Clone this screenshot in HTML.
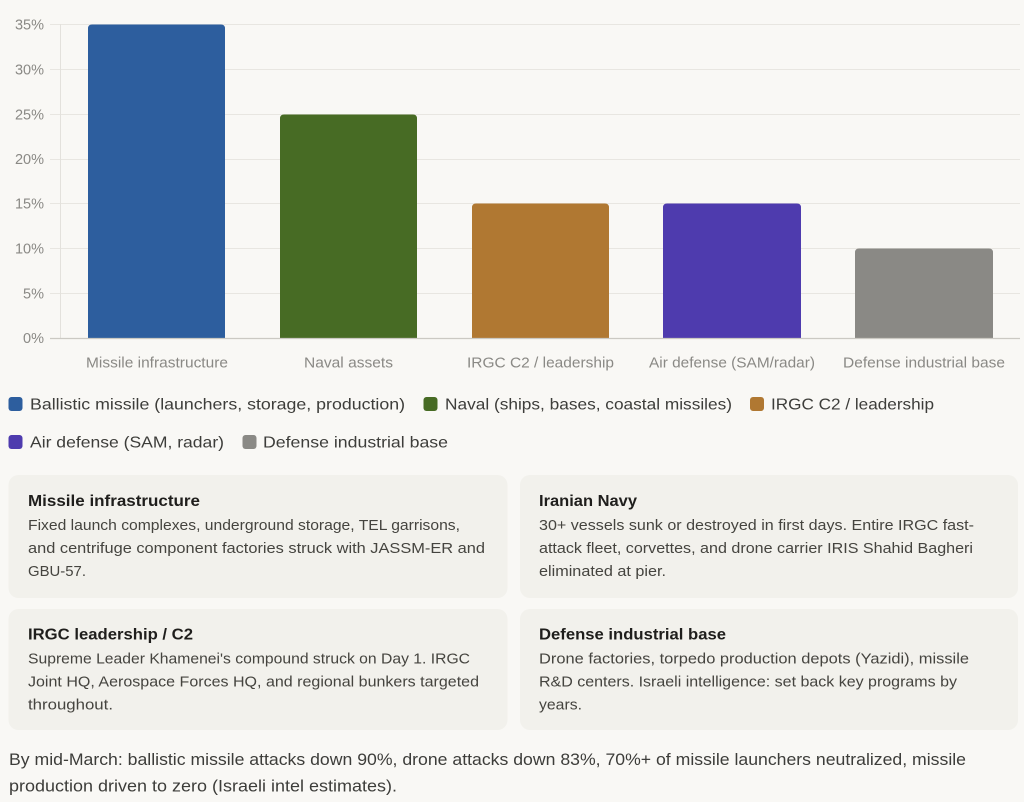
<!DOCTYPE html>
<html>
<head>
<meta charset="utf-8">
<style>
  html,body{margin:0;padding:0;background:#f9f8f5;}
  body{width:1024px;height:802px;overflow:hidden;}
  svg{display:block;}
  text{font-family:"Liberation Sans","DejaVu Sans",sans-serif;}
</style>
</head>
<body>
<svg width="1024" height="802" viewBox="0 0 1024 802" xmlns="http://www.w3.org/2000/svg">
  <rect x="0" y="0" width="1024" height="802" fill="#f9f8f5"/>

  <!-- gridlines -->
  <g stroke="#e8e6e1" stroke-width="1">
    <line x1="50" y1="24.5" x2="1020" y2="24.5"/>
    <line x1="50" y1="69.5" x2="1020" y2="69.5"/>
    <line x1="50" y1="114.5" x2="1020" y2="114.5"/>
    <line x1="50" y1="159.5" x2="1020" y2="159.5"/>
    <line x1="50" y1="203.5" x2="1020" y2="203.5"/>
    <line x1="50" y1="248.5" x2="1020" y2="248.5"/>
    <line x1="50" y1="293.5" x2="1020" y2="293.5"/>
  </g>
  <line x1="60.5" y1="24" x2="60.5" y2="338" stroke="#e3e1dc" stroke-width="1"/>

  <!-- bars -->
  <path d="M88,338 V28.5 Q88,24.5 92,24.5 H221 Q225,24.5 225,28.5 V338 Z" fill="#2d5e9e"/>
  <path d="M280,338 V118.5 Q280,114.5 284,114.5 H413 Q417,114.5 417,118.5 V338 Z" fill="#476b24"/>
  <path d="M472,338 V207.5 Q472,203.5 476,203.5 H605 Q609,203.5 609,207.5 V338 Z" fill="#b07832"/>
  <path d="M663,338 V207.5 Q663,203.5 667,203.5 H797 Q801,203.5 801,207.5 V338 Z" fill="#4e3bae"/>
  <path d="M855,338 V252.5 Q855,248.5 859,248.5 H989 Q993,248.5 993,252.5 V338 Z" fill="#8a8985"/>

  <!-- x axis -->
  <line x1="50" y1="338.5" x2="1020" y2="338.5" stroke="#cbc9c3" stroke-width="1.2"/>

  <!-- y labels -->
  <g font-size="14.5" fill="#8a8985" text-anchor="end">
    <text x="44" y="29.5">35%</text>
    <text x="44" y="74.5">30%</text>
    <text x="44" y="119.5">25%</text>
    <text x="44" y="164">20%</text>
    <text x="44" y="208.5">15%</text>
    <text x="44" y="253.5">10%</text>
    <text x="44" y="298.5">5%</text>
    <text x="44" y="343">0%</text>
  </g>

  <!-- x labels -->
  <g font-size="14.5" fill="#8a8985">
    <text x="86" y="367.5" textLength="142" lengthAdjust="spacingAndGlyphs">Missile infrastructure</text>
    <text x="304" y="367.5" textLength="89" lengthAdjust="spacingAndGlyphs">Naval assets</text>
    <text x="467" y="367.5" textLength="147" lengthAdjust="spacingAndGlyphs">IRGC C2 / leadership</text>
    <text x="649" y="367.5" textLength="166" lengthAdjust="spacingAndGlyphs">Air defense (SAM/radar)</text>
    <text x="843" y="367.5" textLength="162" lengthAdjust="spacingAndGlyphs">Defense industrial base</text>
  </g>

  <!-- legend -->
  <rect x="8.5" y="397" width="14" height="14" rx="3" fill="#2d5e9e"/>
  <rect x="423.5" y="397" width="14" height="14" rx="3" fill="#476b24"/>
  <rect x="750" y="397" width="14" height="14" rx="3" fill="#b07832"/>
  <rect x="8.5" y="435" width="14" height="14" rx="3" fill="#4e3bae"/>
  <rect x="242.5" y="435" width="14" height="14" rx="3" fill="#8a8985"/>
  <g font-size="16" fill="#3d3d3a">
    <text x="30" y="409.5" textLength="375" lengthAdjust="spacingAndGlyphs">Ballistic missile (launchers, storage, production)</text>
    <text x="445" y="409.5" textLength="287" lengthAdjust="spacingAndGlyphs">Naval (ships, bases, coastal missiles)</text>
    <text x="771" y="409.5" textLength="163" lengthAdjust="spacingAndGlyphs">IRGC C2 / leadership</text>
    <text x="30" y="447.5" textLength="194" lengthAdjust="spacingAndGlyphs">Air defense (SAM, radar)</text>
    <text x="263" y="447.5" textLength="185" lengthAdjust="spacingAndGlyphs">Defense industrial base</text>
  </g>

  <!-- cards -->
  <rect x="8.5" y="475" width="499" height="123" rx="10" fill="#f2f1ec"/>
  <rect x="520" y="475" width="498" height="123" rx="10" fill="#f2f1ec"/>
  <rect x="8.5" y="609" width="499" height="121" rx="10" fill="#f2f1ec"/>
  <rect x="520" y="609" width="498" height="121" rx="10" fill="#f2f1ec"/>

  <g font-size="16" font-weight="bold" fill="#1f1e1c">
    <text x="28" y="506" textLength="172" lengthAdjust="spacingAndGlyphs">Missile infrastructure</text>
    <text x="539" y="506" textLength="98" lengthAdjust="spacingAndGlyphs">Iranian Navy</text>
    <text x="28" y="639.5" textLength="165" lengthAdjust="spacingAndGlyphs">IRGC leadership / C2</text>
    <text x="539" y="639.5" textLength="187" lengthAdjust="spacingAndGlyphs">Defense industrial base</text>
  </g>

  <g font-size="15" fill="#45443f">
    <text x="28" y="530" textLength="432" lengthAdjust="spacingAndGlyphs">Fixed launch complexes, underground storage, TEL garrisons,</text>
    <text x="28" y="553" textLength="457" lengthAdjust="spacingAndGlyphs">and centrifuge component factories struck with JASSM-ER and</text>
    <text x="28" y="576" textLength="58" lengthAdjust="spacingAndGlyphs">GBU-57.</text>

    <text x="539" y="530" textLength="435" lengthAdjust="spacingAndGlyphs">30+ vessels sunk or destroyed in first days. Entire IRGC fast-</text>
    <text x="539" y="553" textLength="434" lengthAdjust="spacingAndGlyphs">attack fleet, corvettes, and drone carrier IRIS Shahid Bagheri</text>
    <text x="539" y="576" textLength="127" lengthAdjust="spacingAndGlyphs">eliminated at pier.</text>

    <text x="28" y="663.5" textLength="442" lengthAdjust="spacingAndGlyphs">Supreme Leader Khamenei's compound struck on Day 1. IRGC</text>
    <text x="28" y="686.5" textLength="451" lengthAdjust="spacingAndGlyphs">Joint HQ, Aerospace Forces HQ, and regional bunkers targeted</text>
    <text x="28" y="709.5" textLength="85" lengthAdjust="spacingAndGlyphs">throughout.</text>

    <text x="539" y="663.5" textLength="430" lengthAdjust="spacingAndGlyphs">Drone factories, torpedo production depots (Yazidi), missile</text>
    <text x="539" y="686.5" textLength="418" lengthAdjust="spacingAndGlyphs">R&amp;D centers. Israeli intelligence: set back key programs by</text>
    <text x="539" y="709.5" textLength="43" lengthAdjust="spacingAndGlyphs">years.</text>
  </g>

  <!-- footer -->
  <g font-size="16.5" fill="#3d3d3a">
    <text x="9" y="765" textLength="957" lengthAdjust="spacingAndGlyphs">By mid-March: ballistic missile attacks down 90%, drone attacks down 83%, 70%+ of missile launchers neutralized, missile</text>
    <text x="9" y="791.5" textLength="388" lengthAdjust="spacingAndGlyphs">production driven to zero (Israeli intel estimates).</text>
  </g>
</svg>
</body>
</html>
